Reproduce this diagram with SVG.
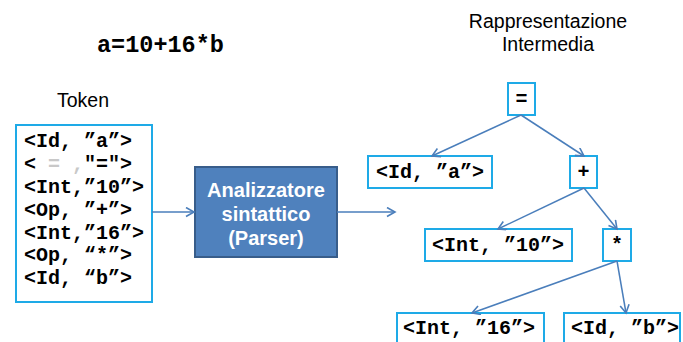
<svg xmlns="http://www.w3.org/2000/svg" width="683" height="342" viewBox="0 0 683 342">
<style>
.code{font-family:"Liberation Mono","Courier New",monospace;font-weight:bold;font-size:20px;fill:#000}
.lbl{font-family:"Liberation Sans",Arial,sans-serif;font-size:19.5px;fill:#000}
.box{fill:#fff;stroke:#1EAAE7;stroke-width:2}
.conn{stroke:#4A7EBB;stroke-width:1.5;fill:none;marker-end:url(#ah)}
.gray{fill:#C8C8C8}
</style>
<defs>
<marker id="ah" markerWidth="12" markerHeight="12" refX="9" refY="5" orient="auto" markerUnits="userSpaceOnUse">
<path d="M1,0.5 L9,5 L1,9.5" fill="none" stroke="#4A7EBB" stroke-width="1.6"/>
</marker>
</defs>
<rect width="683" height="342" fill="#fff"/>
<g id="title"><text x="97" y="52" class="code" style="font-size:23.5px">a=10+16*b</text></g>
<g id="token-label"><text x="57" y="107" class="lbl">Token</text></g>
<g id="ir-label"><text x="548" y="28" class="lbl" text-anchor="middle">Rappresentazione</text><text x="548" y="51" class="lbl" text-anchor="middle">Intermedia</text></g>
<g id="tokens">
<rect x="16" y="125" width="136" height="177" class="box"/>
<text x="24" y="147" class="code">&lt;Id, ”a”&gt;</text>
<text x="24" y="170" class="code">&lt; <tspan class="gray">= ,</tspan>"="&gt;</text>
<text x="24" y="193" class="code">&lt;Int,”10”&gt;</text>
<text x="24" y="215.5" class="code">&lt;Op, ”+”&gt;</text>
<text x="24" y="238.5" class="code">&lt;Int,”16”&gt;</text>
<text x="24" y="261" class="code">&lt;Op, “*”&gt;</text>
<text x="24" y="284" class="code">&lt;Id, “b”&gt;</text>
</g>
<g id="parser">
<rect x="195" y="167" width="142" height="90" fill="#4F81BD" stroke="#385D8A" stroke-width="2"/>
<g font-family="Liberation Sans,Arial,sans-serif" font-weight="bold" font-size="20" fill="#fff" text-anchor="middle">
<text x="266" y="197">Analizzatore</text>
<text x="266" y="221">sintattico</text>
<text x="266" y="245">(Parser)</text>
</g>
</g>
<g id="n-eq"><rect x="508" y="83" width="27" height="32" class="box"/><text x="521.5" y="105" class="code" text-anchor="middle">=</text></g>
<g id="n-a"><rect x="368" y="156" width="124" height="32" class="box"/><text x="376" y="178" class="code">&lt;Id, ”a”&gt;</text></g>
<g id="n-plus"><rect x="570" y="156" width="27" height="32" class="box"/><text x="583.5" y="178" class="code" text-anchor="middle">+</text></g>
<g id="n-10"><rect x="425" y="229" width="147" height="32" class="box"/><text x="432" y="251" class="code">&lt;Int, ”10”&gt;</text></g>
<g id="n-mul"><rect x="603" y="229" width="28" height="32" class="box"/><text x="617" y="251" class="code" text-anchor="middle">*</text></g>
<g id="n-16"><rect x="397" y="313" width="147" height="34" class="box"/><text x="403" y="334" class="code">&lt;Int, ”16”&gt;</text></g>
<g id="n-b"><rect x="564" y="313" width="116" height="34" class="box"/><text x="571" y="334" class="code">&lt;Id, ”b”&gt;</text></g>
<g id="connectors">
<line x1="152" y1="212" x2="194" y2="212" class="conn"/>
<line x1="337" y1="212" x2="395" y2="212" class="conn"/>
<line x1="521" y1="115" x2="432" y2="156" class="conn"/>
<line x1="521" y1="115" x2="584" y2="156" class="conn"/>
<line x1="584" y1="188" x2="498" y2="229" class="conn"/>
<line x1="584" y1="188" x2="617" y2="229" class="conn"/>
<line x1="617" y1="261" x2="472" y2="313" class="conn"/>
<line x1="617" y1="261" x2="626" y2="313" class="conn"/>
</g>
</svg>
